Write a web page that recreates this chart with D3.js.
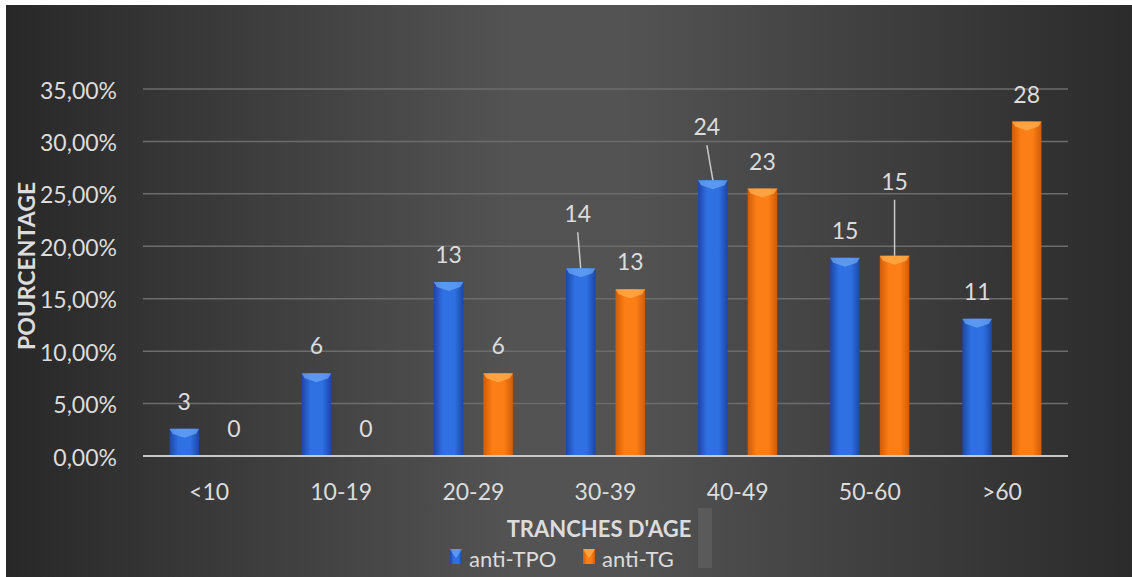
<!DOCTYPE html>
<html>
<head>
<meta charset="utf-8">
<script src="https://cdn.jsdelivr.net/npm/d3@7/dist/d3.min.js"></script>
<style>
  html, body { margin: 0; padding: 0; background: #ffffff; }
  svg { display: block; }
  text { font-family: Lato, "Open Sans", sans-serif; fill: #dcdcdc; }
</style>
</head>
<body>
<svg id="chart" width="1132" height="577"></svg>
<script>
// Age groups and the share of positive results per group (percent)
const categories = ["<10", "10-19", "20-29", "30-39", "40-49", "50-60", ">60"];
const seriesNames = ["anti-TPO", "anti-TG"];
const antiTPO = [2.6, 7.9, 16.6, 17.9, 26.3, 18.9, 13.1];
const antiTG = [0, 0, 7.9, 15.9, 25.5, 19.1, 31.9];
// Number of patients shown above each bar
const antiTPOCounts = [3, 6, 13, 14, 24, 15, 11];
const antiTGCounts = [0, 0, 6, 13, 23, 15, 28];
const yTicks = [0, 5, 10, 15, 20, 25, 30, 35];

const W = 1132, H = 577;
const FS = "23px";
const svg = d3.select("#chart");
const defs = svg.append("defs");

// Dark backdrop with a lighter middle
const bg = defs.append("linearGradient").attr("id", "bg").attr("x1", 0).attr("x2", 1).attr("y1", 0).attr("y2", 0);
[[0, "#282828"], [0.45, "#535353"], [0.55, "#535353"], [1, "#2b2b2b"]].forEach(([o, c]) =>
  bg.append("stop").attr("offset", o).attr("stop-color", c));
svg.append("rect").attr("x", 6).attr("y", 5).attr("width", W - 6).attr("height", H - 5).attr("fill", "url(#bg)");

const palette = {
  "anti-TPO": { edge: "#1b47a6", mid: "#2f70e2", bevel: "#6aa5f5" },
  "anti-TG": { edge: "#cf5c08", mid: "#fb7e16", bevel: "#ffb04f" }
};
seriesNames.forEach((s, i) => {
  const g = defs.append("linearGradient").attr("id", "bar" + i).attr("x1", 0).attr("x2", 1).attr("y1", 0).attr("y2", 0);
  [[0, palette[s].edge], [0.3, palette[s].mid], [0.7, palette[s].mid], [1, palette[s].edge]].forEach(([o, c]) =>
    g.append("stop").attr("offset", o).attr("stop-color", c));
});

const x = d3.scaleBand().domain(categories).range([143, 1068]).paddingInner(0).paddingOuter(0);
const xs = d3.scaleBand().domain(seriesNames).range([0, x.bandwidth()]).paddingInner(0.404).paddingOuter(0.535);
const y = d3.scaleLinear().domain([0, 35]).range([456, 89]);

const fr = d3.formatLocale({ decimal: ",", thousands: " ", grouping: [3], currency: ["", "€"] });
const pct = v => fr.format(".2f")(v) + "%";

// Horizontal gridlines
svg.append("g").selectAll("line").data(yTicks.filter(t => t > 0)).join("line")
  .attr("x1", 143).attr("x2", 1068)
  .attr("y1", d => y(d)).attr("y2", d => y(d))
  .attr("stroke", "#6c6c6c").attr("stroke-width", 1.5);

// Y axis labels
const yAxis = d3.axisLeft(y).tickValues(yTicks).tickFormat(pct).tickSize(0).tickPadding(0);
const yg = svg.append("g").attr("transform", "translate(117,1)").call(yAxis);
yg.select(".domain").remove();
yg.selectAll("text").style("font-size", FS).attr("fill", "#dcdcdc").attr("dy", "0.35em")
  .style("font-family", "Lato, sans-serif");

// Bars
const series = [
  { name: "anti-TPO", values: antiTPO, counts: antiTPOCounts, grad: "url(#bar0)" },
  { name: "anti-TG", values: antiTG, counts: antiTGCounts, grad: "url(#bar1)" }
];

function bevelPath(x0, w, top) {
  const x1 = x0 + w, cx = x0 + w / 2;
  return `M${x0},${top} L${x1},${top} L${x1 - 3},${top + 5} L${cx},${top + 9} L${x0 + 3},${top + 5} Z`;
}

series.forEach(s => {
  const g = svg.append("g");
  const data = categories.map((c, i) => ({ c, v: s.values[i] })).filter(d => d.v > 0);
  g.selectAll("rect").data(data).join("rect")
    .attr("x", d => x(d.c) + xs(s.name))
    .attr("y", d => y(d.v))
    .attr("width", xs.bandwidth())
    .attr("height", d => y(0) - y(d.v))
    .attr("fill", s.grad);
  g.selectAll("path").data(data).join("path")
    .attr("d", d => bevelPath(x(d.c) + xs(s.name), xs.bandwidth(), y(d.v)))
    .attr("fill", palette[s.name].bevel).attr("opacity", 0.75);
});

// Baseline
svg.append("line").attr("x1", 143).attr("x2", 1068).attr("y1", y(0)).attr("y2", y(0))
  .attr("stroke", "#c8c8c8").attr("stroke-width", 2);

// Count labels; a few are lifted and tied back to their bar with a leader line
const moved = { "anti-TPO": { 3: [-3, -54], 4: [-6, -53] }, "anti-TG": { 5: [0, -74] } };
series.forEach(s => {
  categories.forEach((c, i) => {
    const cx = x(c) + xs(s.name) + xs.bandwidth() / 2;
    const top = y(s.values[i]);
    const shift = moved[s.name][i];
    const lx = cx + (shift ? shift[0] : 0);
    const ly = top + (shift ? shift[1] : -27);
    if (shift) {
      svg.append("line").attr("x1", lx).attr("y1", ly + 18).attr("x2", cx).attr("y2", top)
        .attr("stroke", "#c8c8c8").attr("stroke-width", 1.5);
    }
    svg.append("text").attr("x", lx).attr("y", ly).attr("dy", "0.35em")
      .attr("text-anchor", "middle").style("font-size", FS)
      .text(s.counts[i]);
  });
});

// X axis labels
const xAxis = d3.axisBottom(x).tickSize(0).tickPadding(0);
const xg = svg.append("g").attr("transform", `translate(0,${y(0) + 36})`).call(xAxis);
xg.select(".domain").remove();
xg.selectAll("text").style("font-size", FS).attr("fill", "#dcdcdc").attr("dy", "0.35em")
  .style("font-family", "Lato, sans-serif");

// Axis titles
svg.append("text").attr("transform", "translate(27,266) rotate(-90)")
  .attr("text-anchor", "middle").attr("dy", "0.35em")
  .style("font-size", "23px").style("font-weight", "bold").text("POURCENTAGE");
svg.append("text").attr("x", 599).attr("y", 529).attr("dy", "0.35em")
  .attr("text-anchor", "middle").style("font-size", "22px").style("font-weight", "bold")
  .text("TRANCHES D'AGE");

// Small divider next to the axis title
svg.append("rect").attr("x", 698).attr("y", 508).attr("width", 14).attr("height", 60).attr("fill", "#5a5a5a");

// Legend
const legendItems = [
  { name: "anti-TPO", x: 450, grad: "url(#bar0)" },
  { name: "anti-TG", x: 583, grad: "url(#bar1)" }
];
const lg = svg.append("g");
legendItems.forEach(it => {
  lg.append("rect").attr("x", it.x).attr("y", 549).attr("width", 12).attr("height", 15).attr("fill", it.grad);
  lg.append("path").attr("d", bevelPath(it.x, 12, 549)).attr("fill", palette[it.name].bevel).attr("opacity", 0.75);
  lg.append("text").attr("x", it.x + 19).attr("y", 559).attr("dy", "0.35em")
    .style("font-size", "22px").text(it.name);
});
</script>
</body>
</html>
